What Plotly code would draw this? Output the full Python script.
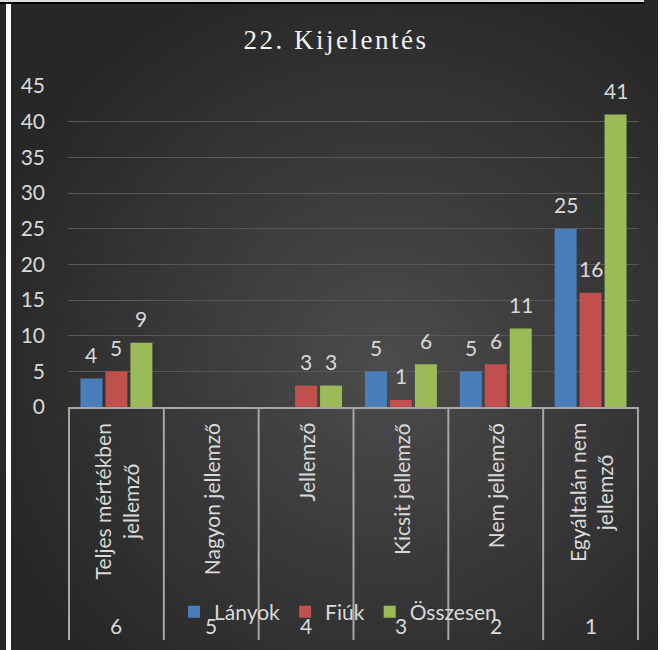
import base64
import plotly.graph_objects as go

# 22. Kijelentés — answers by group
categories = ["Teljes mértékben<br>jellemző", "Nagyon jellemző", "Jellemző",
              "Kicsit jellemző", "Nem jellemző", "Egyáltalán nem<br>jellemző"]
codes = ["6", "5", "4", "3", "2", "1"]
lanyok = [4, None, None, 5, 5, 25]
fiuk = [5, None, 3, 1, 6, 16]
osszesen = [9, None, 3, 6, 11, 41]
y_ticks = list(range(0, 50, 5))

W, H = 664, 650
L, R, T, B = 68, 25, 86, 243
PW, PH = W - L - R, H - T - B
BARGAP = 0.21


def px_x(x):
    return (x - L) / PW


def px_y(y):
    return 1 - (y - T) / PH


TXT = "#d9d9d9"
FONT = "Lato"
FS = 21

bg_svg = (
    "<svg xmlns='http://www.w3.org/2000/svg' width='664' height='650'>"
    "<defs><radialGradient id='g' cx='0.58' cy='0.56' r='0.62'>"
    "<stop offset='0' stop-color='#4c4c4c'/>"
    "<stop offset='1' stop-color='#272727'/>"
    "</radialGradient></defs>"
    "<rect width='664' height='650' fill='url(#g)'/></svg>"
)
bg_uri = "data:image/svg+xml;base64," + base64.b64encode(bg_svg.encode()).decode()

series = [("Lányok", lanyok, "#4a7ebb"),
          ("Fiúk", fiuk, "#c0504d"),
          ("Összesen", osszesen, "#9bbb59")]

fig = go.Figure()
for name, vals, color in series:
    fig.add_bar(x=categories, y=vals, name=name,
                marker=dict(color=color, line_width=0))

annotations = []
# value labels sit well above the bars, like the Excel original
slot_px = PW / len(categories) * (1 - BARGAP) / len(series)
for j, (name, vals, color) in enumerate(series):
    for cat, v in zip(categories, vals):
        if v is None:
            continue
        annotations.append(dict(
            x=cat, xref="x", y=v, yref="y", text=str(v), showarrow=False,
            xshift=(j - 1) * slot_px, yshift=24, yanchor="middle",
            font=dict(family=FONT, size=FS, color=TXT)))

shapes = []
# category dividers below the axis
for i in range(len(categories) + 1):
    shapes.append(dict(type="line", xref="x", yref="paper",
                       x0=i - 0.5, x1=i - 0.5, y0=0, y1=px_y(640),
                       line=dict(color="#a6a6a6", width=2)))
# frame bits of the screenshot
shapes += [
    dict(type="rect", xref="paper", yref="paper", x0=px_x(6), x1=px_x(11),
         y0=px_y(H), y1=px_y(0), fillcolor="white", line_width=0),
    dict(type="rect", xref="paper", yref="paper", x0=px_x(658), x1=px_x(W),
         y0=px_y(H), y1=px_y(0), fillcolor="white", line_width=0),
    dict(type="rect", xref="paper", yref="paper", x0=px_x(0), x1=px_x(644),
         y0=px_y(2), y1=px_y(0), fillcolor="#dcdcdc", line_width=0),
    dict(type="rect", xref="paper", yref="paper", x0=px_x(0), x1=px_x(645),
         y0=px_y(4), y1=px_y(2), fillcolor="black", line_width=0),
]

for cat, code in zip(categories, codes):
    annotations.append(dict(
        x=cat, xref="x", y=px_y(421), yref="paper", text=cat, textangle=-90,
        showarrow=False, xanchor="center", yanchor="top", align="center",
        font=dict(family=FONT, size=FS, color=TXT)))
    annotations.append(dict(
        x=cat, xref="x", y=px_y(625), yref="paper", text=code,
        showarrow=False, xanchor="center", yanchor="middle",
        font=dict(family=FONT, size=FS, color=TXT)))

fig.update_layout(
    width=W, height=H,
    margin=dict(l=L, r=R, t=T, b=B),
    paper_bgcolor="#2e2e2e", plot_bgcolor="rgba(0,0,0,0)",
    images=[dict(source=bg_uri, xref="paper", yref="paper",
                 x=px_x(0), y=px_y(0), sizex=W / PW, sizey=H / PH,
                 sizing="stretch", xanchor="left", yanchor="top",
                 layer="below")],
    title=dict(text="<span style='letter-spacing:2.5px'>22. Kijelentés</span>",
               xref="container", x=336 / W, xanchor="center",
               y=1 - 40 / H, yanchor="middle",
               font=dict(family="Liberation Serif", size=27, color="#f2f2f2")),
    barmode="group", bargap=BARGAP, bargroupgap=0.12,
    showlegend=True,
    legend=dict(orientation="h", x=px_x(174), xanchor="left",
                y=px_y(612), yanchor="middle", bgcolor="rgba(0,0,0,0)",
                font=dict(family=FONT, size=FS, color=TXT),
                itemwidth=30, tracegroupgap=0),
    shapes=shapes, annotations=annotations,
)
fig.update_xaxes(showticklabels=False, showgrid=False, showline=True,
                 linecolor="#a6a6a6", linewidth=2, ticks="")
fig.update_yaxes(range=[0, 45], tickvals=y_ticks, showgrid=True,
                 gridcolor="#575757", gridwidth=1, zeroline=False,
                 showline=False, ticks="", ticklabelstandoff=22,
                 tickfont=dict(family=FONT, size=FS, color=TXT))

fig.write_html("out.html", config={"displayModeBar": False},
               post_script="document.body.style.margin='0';")
